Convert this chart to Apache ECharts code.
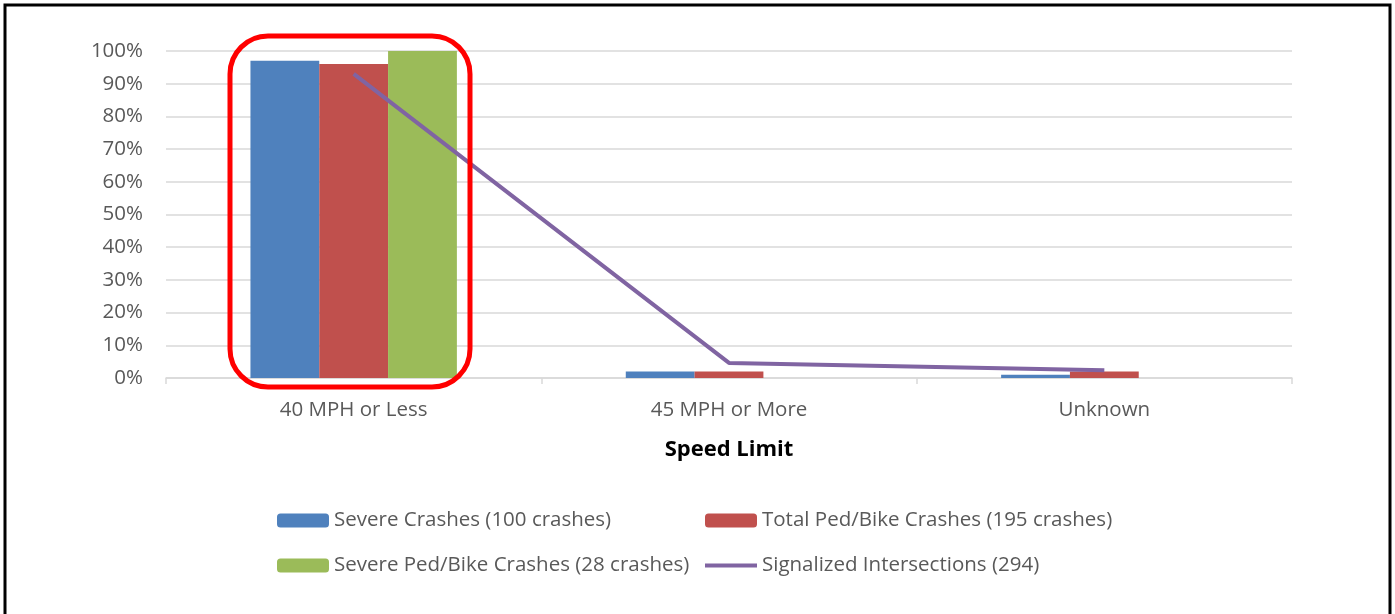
<!DOCTYPE html>
<html>
<head>
<meta charset="utf-8">
<script src="https://cdn.jsdelivr.net/npm/echarts@6/dist/echarts.min.js"></script>
<style>
  html, body { margin: 0; padding: 0; background: #fff; }
  #speed_chart { width: 1395px; height: 614px; }
</style>
</head>
<body>
<div id="speed_chart"></div>
<script>
  // shares by speed limit, in percent
  let categories = ['40 MPH or Less', '45 MPH or More', 'Unknown']
  let severeCrashes = [97, 2, 1]
  let totalPedBike = [96, 2, 2]
  let severePedBike = [100, 0, 0]
  let signalized = [93, 4.6, 2.4]
  let seriesNames = ['Severe Crashes (100 crashes)', 'Total Ped/Bike Crashes (195 crashes)',
    'Severe Ped/Bike Crashes (28 crashes)', 'Signalized Intersections (294)']

  let font = '"Open Sans", "Noto Sans", sans-serif'
  let myChart = echarts.init(document.getElementById('speed_chart'))

  let legendText = {
    color: '#595959',
    fontSize: 20.5,
    fontFamily: font,
    lineHeight: 20
  }
  let lineIcon = 'path://M0,0 L52,0 L52,4 L0,4 Z'

  let option = {
    animation: false,
    backgroundColor: '#fff',
    grid: {
      left: 166,
      right: 103,
      top: 51,
      bottom: 236
    },
    legend: [{
      orient: 'vertical',
      left: 277,
      top: 510,
      padding: 0,
      itemWidth: 52,
      itemHeight: 14,
      itemGap: 24,
      textStyle: legendText,
      data: [seriesNames[0], seriesNames[2]]
    }, {
      orient: 'vertical',
      left: 705,
      top: 510,
      padding: 0,
      itemWidth: 52,
      itemHeight: 14,
      itemGap: 24,
      textStyle: legendText,
      data: [seriesNames[1], { name: seriesNames[3], icon: lineIcon }]
    }],
    xAxis: {
      type: 'category',
      data: categories,
      name: 'Speed Limit',
      nameLocation: 'middle',
      nameGap: 61,
      nameTextStyle: {
        color: '#000',
        fontSize: 22,
        fontWeight: 'bold',
        fontFamily: font
      },
      axisLine: {
        lineStyle: { color: '#d9d9d9', width: 1.5 }
      },
      axisTick: {
        show: true,
        length: 6,
        lineStyle: { color: '#d9d9d9', width: 1.5 }
      },
      axisLabel: {
        color: '#595959',
        fontSize: 20.5,
        fontFamily: font,
        margin: 22
      }
    },
    yAxis: {
      type: 'value',
      min: 0,
      max: 100,
      interval: 10,
      axisLine: { show: false },
      axisTick: { show: false },
      axisLabel: {
        color: '#595959',
        fontSize: 20.5,
        fontFamily: font,
        margin: 23,
        formatter: '{value}%'
      },
      splitLine: {
        lineStyle: { color: '#d9d9d9', width: 1.5 }
      }
    },
    series: [{
      name: seriesNames[0],
      type: 'bar',
      barGap: 0,
      barCategoryGap: '45%',
      itemStyle: { color: '#4f81bd' },
      data: severeCrashes
    }, {
      name: seriesNames[1],
      type: 'bar',
      barGap: 0,
      barCategoryGap: '45%',
      itemStyle: { color: '#c0504d' },
      data: totalPedBike
    }, {
      name: seriesNames[2],
      type: 'bar',
      barGap: 0,
      barCategoryGap: '45%',
      itemStyle: { color: '#9bbb59' },
      data: severePedBike
    }, {
      name: seriesNames[3],
      type: 'line',
      symbol: 'none',
      lineStyle: { color: '#8064a2', width: 4 },
      itemStyle: { color: '#8064a2' },
      data: signalized
    }],
    graphic: [{
      // outer frame
      type: 'rect',
      shape: { x: 5, y: 5, width: 1385, height: 640 },
      style: { fill: 'none', stroke: '#000', lineWidth: 3 },
      silent: true
    }, {
      // red highlight round the first group
      type: 'rect',
      shape: { x: 230, y: 36, width: 240, height: 351, r: 38 },
      style: { fill: 'none', stroke: '#ff0000', lineWidth: 5 },
      z: 100,
      silent: true
    }]
  }

  myChart.setOption(option)
</script>
</body>
</html>
